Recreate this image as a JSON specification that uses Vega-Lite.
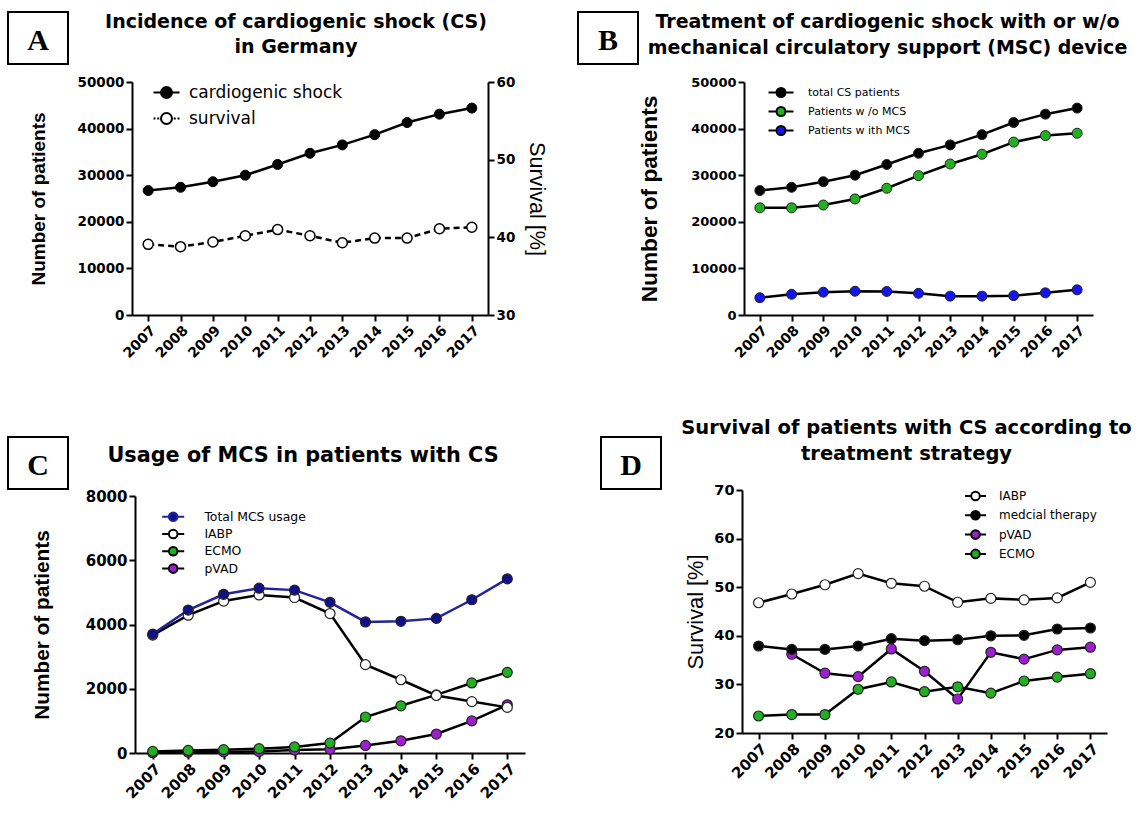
{
  "$schema": "https://vega.github.io/schema/vega-lite/v6.json",
  "background": "white",
  "padding": {"left": 7, "top": 11, "right": 0, "bottom": 0},
  "config": {
    "view": {"stroke": null},
    "font": "DejaVu Sans",
    "axis": {"domainColor": "black", "domainWidth": 2, "tickColor": "black", "tickWidth": 2, "tickSize": 6, "labelPadding": 2, "labelColor": "black", "labelFont": "DejaVu Sans", "labelFontWeight": "bold", "titleColor": "black", "titleFont": "Liberation Sans", "titleFontWeight": "bold", "grid": false},
    "axisX": {"labelAngle": -45},
    "legend": {"labelFont": "DejaVu Sans", "labelColor": "black", "padding": 0, "symbolStrokeWidth": 2}
  },
  "datasets": {
    "a": [
      {"year": "2007", "patients": 26700, "survival": 39.1},
      {"year": "2008", "patients": 27400, "survival": 38.8},
      {"year": "2009", "patients": 28600, "survival": 39.4},
      {"year": "2010", "patients": 30000, "survival": 40.2},
      {"year": "2011", "patients": 32300, "survival": 41.0},
      {"year": "2012", "patients": 34700, "survival": 40.2},
      {"year": "2013", "patients": 36500, "survival": 39.3},
      {"year": "2014", "patients": 38700, "survival": 39.9},
      {"year": "2015", "patients": 41300, "survival": 39.9},
      {"year": "2016", "patients": 43100, "survival": 41.1},
      {"year": "2017", "patients": 44400, "survival": 41.3}
    ],
    "b": [
      {"year": "2007", "series": "Patients w /o MCS", "value": 23000},
      {"year": "2008", "series": "Patients w /o MCS", "value": 23000},
      {"year": "2009", "series": "Patients w /o MCS", "value": 23600},
      {"year": "2010", "series": "Patients w /o MCS", "value": 24900},
      {"year": "2011", "series": "Patients w /o MCS", "value": 27200},
      {"year": "2012", "series": "Patients w /o MCS", "value": 29900},
      {"year": "2013", "series": "Patients w /o MCS", "value": 32400},
      {"year": "2014", "series": "Patients w /o MCS", "value": 34500},
      {"year": "2015", "series": "Patients w /o MCS", "value": 37100},
      {"year": "2016", "series": "Patients w /o MCS", "value": 38500},
      {"year": "2017", "series": "Patients w /o MCS", "value": 39000},
      {"year": "2007", "series": "Patients w ith MCS", "value": 3700},
      {"year": "2008", "series": "Patients w ith MCS", "value": 4450},
      {"year": "2009", "series": "Patients w ith MCS", "value": 4900},
      {"year": "2010", "series": "Patients w ith MCS", "value": 5100},
      {"year": "2011", "series": "Patients w ith MCS", "value": 5050},
      {"year": "2012", "series": "Patients w ith MCS", "value": 4650},
      {"year": "2013", "series": "Patients w ith MCS", "value": 4050},
      {"year": "2014", "series": "Patients w ith MCS", "value": 4050},
      {"year": "2015", "series": "Patients w ith MCS", "value": 4150},
      {"year": "2016", "series": "Patients w ith MCS", "value": 4750},
      {"year": "2017", "series": "Patients w ith MCS", "value": 5400},
      {"year": "2007", "series": "total CS patients", "value": 26700},
      {"year": "2008", "series": "total CS patients", "value": 27400},
      {"year": "2009", "series": "total CS patients", "value": 28600},
      {"year": "2010", "series": "total CS patients", "value": 30000},
      {"year": "2011", "series": "total CS patients", "value": 32300},
      {"year": "2012", "series": "total CS patients", "value": 34700},
      {"year": "2013", "series": "total CS patients", "value": 36500},
      {"year": "2014", "series": "total CS patients", "value": 38700},
      {"year": "2015", "series": "total CS patients", "value": 41300},
      {"year": "2016", "series": "total CS patients", "value": 43100},
      {"year": "2017", "series": "total CS patients", "value": 44400}
    ],
    "c": [
      {"year": "2007", "series": "pVAD", "value": 10},
      {"year": "2008", "series": "pVAD", "value": 25},
      {"year": "2009", "series": "pVAD", "value": 35},
      {"year": "2010", "series": "pVAD", "value": 45},
      {"year": "2011", "series": "pVAD", "value": 90},
      {"year": "2012", "series": "pVAD", "value": 120},
      {"year": "2013", "series": "pVAD", "value": 235},
      {"year": "2014", "series": "pVAD", "value": 380},
      {"year": "2015", "series": "pVAD", "value": 590},
      {"year": "2016", "series": "pVAD", "value": 1000},
      {"year": "2017", "series": "pVAD", "value": 1500},
      {"year": "2007", "series": "ECMO", "value": 50},
      {"year": "2008", "series": "ECMO", "value": 80},
      {"year": "2009", "series": "ECMO", "value": 105},
      {"year": "2010", "series": "ECMO", "value": 135},
      {"year": "2011", "series": "ECMO", "value": 190},
      {"year": "2012", "series": "ECMO", "value": 310},
      {"year": "2013", "series": "ECMO", "value": 1120},
      {"year": "2014", "series": "ECMO", "value": 1470},
      {"year": "2015", "series": "ECMO", "value": 1810},
      {"year": "2016", "series": "ECMO", "value": 2180},
      {"year": "2017", "series": "ECMO", "value": 2510},
      {"year": "2007", "series": "IABP", "value": 3670},
      {"year": "2008", "series": "IABP", "value": 4290},
      {"year": "2009", "series": "IABP", "value": 4730},
      {"year": "2010", "series": "IABP", "value": 4920},
      {"year": "2011", "series": "IABP", "value": 4840},
      {"year": "2012", "series": "IABP", "value": 4340},
      {"year": "2013", "series": "IABP", "value": 2750},
      {"year": "2014", "series": "IABP", "value": 2280},
      {"year": "2015", "series": "IABP", "value": 1790},
      {"year": "2016", "series": "IABP", "value": 1600},
      {"year": "2017", "series": "IABP", "value": 1420},
      {"year": "2007", "series": "Total MCS usage", "value": 3700},
      {"year": "2008", "series": "Total MCS usage", "value": 4450},
      {"year": "2009", "series": "Total MCS usage", "value": 4940},
      {"year": "2010", "series": "Total MCS usage", "value": 5130},
      {"year": "2011", "series": "Total MCS usage", "value": 5070},
      {"year": "2012", "series": "Total MCS usage", "value": 4690},
      {"year": "2013", "series": "Total MCS usage", "value": 4080},
      {"year": "2014", "series": "Total MCS usage", "value": 4100},
      {"year": "2015", "series": "Total MCS usage", "value": 4190},
      {"year": "2016", "series": "Total MCS usage", "value": 4770},
      {"year": "2017", "series": "Total MCS usage", "value": 5420}
    ],
    "d": [
      {"year": "2007", "series": "ECMO", "value": 23.5},
      {"year": "2008", "series": "ECMO", "value": 23.8},
      {"year": "2009", "series": "ECMO", "value": 23.8},
      {"year": "2010", "series": "ECMO", "value": 29.0},
      {"year": "2011", "series": "ECMO", "value": 30.5},
      {"year": "2012", "series": "ECMO", "value": 28.5},
      {"year": "2013", "series": "ECMO", "value": 29.5},
      {"year": "2014", "series": "ECMO", "value": 28.2},
      {"year": "2015", "series": "ECMO", "value": 30.7},
      {"year": "2016", "series": "ECMO", "value": 31.5},
      {"year": "2017", "series": "ECMO", "value": 32.2},
      {"year": "2008", "series": "pVAD", "value": 36.2},
      {"year": "2009", "series": "pVAD", "value": 32.3},
      {"year": "2010", "series": "pVAD", "value": 31.6},
      {"year": "2011", "series": "pVAD", "value": 37.3},
      {"year": "2012", "series": "pVAD", "value": 32.7},
      {"year": "2013", "series": "pVAD", "value": 27.0},
      {"year": "2014", "series": "pVAD", "value": 36.6},
      {"year": "2015", "series": "pVAD", "value": 35.2},
      {"year": "2016", "series": "pVAD", "value": 37.1},
      {"year": "2017", "series": "pVAD", "value": 37.65},
      {"year": "2007", "series": "medcial therapy", "value": 37.9},
      {"year": "2008", "series": "medcial therapy", "value": 37.2},
      {"year": "2009", "series": "medcial therapy", "value": 37.2},
      {"year": "2010", "series": "medcial therapy", "value": 37.9},
      {"year": "2011", "series": "medcial therapy", "value": 39.4},
      {"year": "2012", "series": "medcial therapy", "value": 39.0},
      {"year": "2013", "series": "medcial therapy", "value": 39.2},
      {"year": "2014", "series": "medcial therapy", "value": 40.0},
      {"year": "2015", "series": "medcial therapy", "value": 40.1},
      {"year": "2016", "series": "medcial therapy", "value": 41.4},
      {"year": "2017", "series": "medcial therapy", "value": 41.6},
      {"year": "2007", "series": "IABP", "value": 46.8},
      {"year": "2008", "series": "IABP", "value": 48.6},
      {"year": "2009", "series": "IABP", "value": 50.5},
      {"year": "2010", "series": "IABP", "value": 52.8},
      {"year": "2011", "series": "IABP", "value": 50.8},
      {"year": "2012", "series": "IABP", "value": 50.2},
      {"year": "2013", "series": "IABP", "value": 46.9},
      {"year": "2014", "series": "IABP", "value": 47.7},
      {"year": "2015", "series": "IABP", "value": 47.4},
      {"year": "2016", "series": "IABP", "value": 47.8},
      {"year": "2017", "series": "IABP", "value": 51.0}
    ]
  },
  "spacing": 56,
  "align": "none",
  "resolve": {"scale": {"fill": "independent", "stroke": "independent", "shape": "independent", "color": "independent"}},
  "vconcat": [
    {
      "spacing": 30,
      "align": "none",
      "resolve": {"scale": {"fill": "independent", "stroke": "independent", "shape": "independent", "color": "independent"}},
      "hconcat": [
        {
          "spacing": -40,
          "align": "none",
          "resolve": {"scale": {"fill": "independent", "stroke": "independent", "shape": "independent", "color": "independent"}},
          "hconcat": [
            {
              "width": 60, "height": 52,
              "view": {"stroke": "black", "strokeWidth": 2},
              "data": {"values": [{"letter": "A"}]},
              "mark": {"type": "text", "font": "Liberation Serif", "fontWeight": "bold", "fontSize": 30, "color": "black", "align": "center", "baseline": "middle", "dy": 3},
              "encoding": {"text": {"field": "letter", "type": "nominal"}}
            },
            {
              "spacing": 18,
              "align": "none",
              "resolve": {"scale": {"fill": "independent", "stroke": "independent", "shape": "independent", "color": "independent"}},
              "vconcat": [
                {
                  "width": 356, "height": 20,
                  "data": {"values": [{"title": "Incidence of cardiogenic shock (CS)\nin Germany"}]},
                  "mark": {"type": "text", "font": "DejaVu Sans", "fontWeight": "bold", "fontSize": 19, "lineHeight": 25, "lineBreak": "\n", "color": "black", "align": "center", "baseline": "middle", "dx": -14},
                  "encoding": {"text": {"field": "title", "type": "nominal"}}
                },
                {
                  "width": 356, "height": 233,
                  "data": {"name": "a"},
                  "encoding": {
                    "x": {"field": "year", "type": "ordinal", "axis": {"title": null, "labelFontSize": 14}}
                  },
                  "layer": [
                    {
                      "transform": [{"filter": "false"}],
                      "mark": {"type": "point", "filled": true, "opacity": 1, "stroke": "black", "strokeWidth": 2},
                      "encoding": {
                        "shape": {"field": "series", "type": "nominal", "scale": {"domain": ["cardiogenic shock", "survival"], "range": ["M-2.6,0L-1.1,0M1.1,0L2.6,0M1.1,0A1.1,1.1,0,1,1,-1.1,0A1.1,1.1,0,1,1,1.1,0Z", "M-2.6,0L-2.2,0M-1.85,0L-1.45,0M1.45,0L1.85,0M2.2,0L2.6,0M1.1,0A1.1,1.1,0,1,1,-1.1,0A1.1,1.1,0,1,1,1.1,0Z"]}, "legend": {"title": null, "orient": "none", "legendX": 26, "legendY": 2, "symbolSize": 100, "symbolStrokeWidth": 2, "labelFontSize": 17, "labelOffset": 14, "rowPadding": 7}},
                        "fill": {"field": "series", "type": "nominal", "scale": {"domain": ["cardiogenic shock", "survival"], "range": ["black", "white"]}, "legend": {"title": null, "orient": "none", "legendX": 26, "legendY": 2, "symbolSize": 100, "symbolStrokeWidth": 2, "labelFontSize": 17, "labelOffset": 14, "rowPadding": 7}}
                      }
                    },
                    {
                      "encoding": {
                        "y": {"field": "patients", "type": "quantitative", "scale": {"domain": [0, 50000], "nice": false}, "axis": {"values": [0, 10000, 20000, 30000, 40000, 50000], "format": "d", "labelFontSize": 13.5, "title": "Number of patients", "titleFontSize": 19, "titlePadding": 29}}
                      },
                      "layer": [
                        {"mark": {"type": "line", "color": "black", "strokeWidth": 2.5}},
                        {"mark": {"type": "point", "filled": true, "fill": "black", "stroke": "black", "strokeWidth": 1, "size": 100, "opacity": 1}}
                      ]
                    },
                    {
                      "encoding": {
                        "y": {"field": "survival", "type": "quantitative", "scale": {"domain": [30, 60], "nice": false, "zero": false}, "axis": {"orient": "right", "values": [30, 40, 50, 60], "labelFontSize": 13.5, "title": "Survival [%]", "titleFontSize": 21.6, "titleFontWeight": "normal", "titlePadding": 10}}
                      },
                      "layer": [
                        {"mark": {"type": "line", "color": "black", "strokeWidth": 2.5, "strokeDash": [6, 4]}},
                        {"mark": {"type": "point", "filled": true, "fill": "white", "stroke": "black", "strokeWidth": 1.5, "size": 100, "opacity": 1}}
                      ]
                    }
                  ],
                  "resolve": {"scale": {"y": "independent"}}
                }
              ]
            }
          ]
        },
        {
          "spacing": -1,
          "align": "none",
          "resolve": {"scale": {"fill": "independent", "stroke": "independent", "shape": "independent", "color": "independent"}},
          "hconcat": [
            {
              "width": 60, "height": 52,
              "view": {"stroke": "black", "strokeWidth": 2},
              "data": {"values": [{"letter": "B"}]},
              "mark": {"type": "text", "font": "Liberation Serif", "fontWeight": "bold", "fontSize": 30, "color": "black", "align": "center", "baseline": "middle", "dy": 3},
              "encoding": {"text": {"field": "letter", "type": "nominal"}}
            },
            {
              "spacing": 18,
              "align": "none",
              "resolve": {"scale": {"fill": "independent", "stroke": "independent", "shape": "independent", "color": "independent"}},
              "vconcat": [
                {
                  "width": 349, "height": 20,
                  "data": {"values": [{"title": "Treatment of cardiogenic shock with or w/o\nmechanical circulatory support (MSC) device"}]},
                  "mark": {"type": "text", "font": "DejaVu Sans", "fontWeight": "bold", "fontSize": 19, "lineHeight": 26, "lineBreak": "\n", "color": "black", "align": "center", "baseline": "middle", "dx": -31},
                  "encoding": {"text": {"field": "title", "type": "nominal"}}
                },
                {
                  "width": 349, "height": 233,
                  "data": {"name": "b"},
                  "encoding": {
                    "x": {"field": "year", "type": "ordinal", "axis": {"title": null, "labelFontSize": 14}},
                    "y": {"field": "value", "type": "quantitative", "scale": {"domain": [0, 50000], "nice": false}, "axis": {"values": [0, 10000, 20000, 30000, 40000, 50000], "format": "d", "labelFontSize": 13, "title": "Number of patients", "titleFontSize": 22.7, "titlePadding": 29}}
                  },
                  "layer": [
                    {
                      "transform": [{"filter": "false"}],
                      "mark": {"type": "point", "filled": true, "opacity": 1, "stroke": "black", "strokeWidth": 2},
                      "encoding": {
                        "shape": {"field": "series", "type": "nominal", "scale": {"domain": ["total CS patients", "Patients w /o MCS", "Patients w ith MCS"], "range": ["M-2.5,0L-0.9,0M0.9,0L2.5,0M0.9,0A0.9,0.9,0,1,1,-0.9,0A0.9,0.9,0,1,1,0.9,0Z", "M-2.5,0L-0.9,0M0.9,0L2.5,0M0.9,0A0.9,0.9,0,1,1,-0.9,0A0.9,0.9,0,1,1,0.9,0Z", "M-2.5,0L-0.9,0M0.9,0L2.5,0M0.9,0A0.9,0.9,0,1,1,-0.9,0A0.9,0.9,0,1,1,0.9,0Z"]}, "legend": {"title": null, "orient": "none", "legendX": 31, "legendY": 4.5, "symbolSize": 100, "symbolStrokeWidth": 2, "labelFontSize": 11, "labelOffset": 21, "rowPadding": 1}},
                        "fill": {"field": "series", "type": "nominal", "scale": {"domain": ["total CS patients", "Patients w /o MCS", "Patients w ith MCS"], "range": ["black", "#22b022", "#1414f0"]}, "legend": {"title": null, "orient": "none", "legendX": 31, "legendY": 4.5, "symbolSize": 100, "symbolStrokeWidth": 2, "labelFontSize": 11, "labelOffset": 21, "rowPadding": 1}}
                      }
                    },
                    {"mark": {"type": "line", "color": "black", "strokeWidth": 2.5}, "encoding": {"detail": {"field": "series", "type": "nominal"}}},
                    {"mark": {"type": "point", "filled": true, "stroke": "#222222", "strokeWidth": 1, "size": 100, "opacity": 1}, "encoding": {"color": {"field": "series", "type": "nominal", "scale": {"domain": ["total CS patients", "Patients w /o MCS", "Patients w ith MCS"], "range": ["black", "#22b022", "#1414f0"]}, "legend": null}}}
                  ]
                }
              ]
            }
          ]
        }
      ]
    },
    {
      "spacing": 75,
      "align": "none",
      "resolve": {"scale": {"fill": "independent", "stroke": "independent", "shape": "independent", "color": "independent"}},
      "hconcat": [
        {
          "spacing": -38,
          "align": "none",
          "resolve": {"scale": {"fill": "independent", "stroke": "independent", "shape": "independent", "color": "independent"}},
          "hconcat": [
            {
              "width": 60, "height": 52,
              "view": {"stroke": "black", "strokeWidth": 2},
              "data": {"values": [{"letter": "C"}]},
              "mark": {"type": "text", "font": "Liberation Serif", "fontWeight": "bold", "fontSize": 30, "color": "black", "align": "center", "baseline": "middle", "dy": 3},
              "encoding": {"text": {"field": "letter", "type": "nominal"}}
            },
            {
              "spacing": 14,
              "align": "none",
              "resolve": {"scale": {"fill": "independent", "stroke": "independent", "shape": "independent", "color": "independent"}},
              "vconcat": [
                {
                  "width": 390, "height": 38,
                  "data": {"values": [{"title": "Usage of MCS in patients with CS"}]},
                  "mark": {"type": "text", "font": "DejaVu Sans", "fontWeight": "bold", "fontSize": 20.8, "color": "black", "align": "center", "baseline": "middle", "dx": -27},
                  "encoding": {"text": {"field": "title", "type": "nominal"}}
                },
                {
                  "width": 390, "height": 257,
                  "data": {"name": "c"},
                  "encoding": {
                    "x": {"field": "year", "type": "ordinal", "axis": {"title": null, "labelFontSize": 15}},
                    "y": {"field": "value", "type": "quantitative", "scale": {"domain": [0, 8000], "nice": false}, "axis": {"values": [0, 2000, 4000, 6000, 8000], "format": "d", "labelFontSize": 15, "title": "Number of patients", "titleFontSize": 20.8, "titlePadding": 33}}
                  },
                  "layer": [
                    {
                      "transform": [{"filter": "false"}],
                      "mark": {"type": "point", "filled": true, "opacity": 1, "strokeWidth": 2},
                      "encoding": {
                        "shape": {"field": "series", "type": "nominal", "scale": {"domain": ["Total MCS usage", "IABP", "ECMO", "pVAD"], "range": ["M-2.2,0L-0.86,0M0.86,0L2.2,0M0.86,0A0.86,0.86,0,1,1,-0.86,0A0.86,0.86,0,1,1,0.86,0Z", "M-2.2,0L-0.86,0M0.86,0L2.2,0M0.86,0A0.86,0.86,0,1,1,-0.86,0A0.86,0.86,0,1,1,0.86,0Z", "M-2.2,0L-0.86,0M0.86,0L2.2,0M0.86,0A0.86,0.86,0,1,1,-0.86,0A0.86,0.86,0,1,1,0.86,0Z", "M-2.2,0L-0.86,0M0.86,0L2.2,0M0.86,0A0.86,0.86,0,1,1,-0.86,0A0.86,0.86,0,1,1,0.86,0Z"]}, "legend": {"title": null, "orient": "none", "legendX": 32, "legendY": 14.5, "symbolSize": 100, "symbolStrokeWidth": 2, "labelFontSize": 12.4, "labelOffset": 25, "rowPadding": -0.7}},
                        "fill": {"field": "series", "type": "nominal", "scale": {"domain": ["Total MCS usage", "IABP", "ECMO", "pVAD"], "range": ["#10108c", "white", "#22b022", "#a01ed2"]}, "legend": {"title": null, "orient": "none", "legendX": 32, "legendY": 14.5, "symbolSize": 100, "symbolStrokeWidth": 2, "labelFontSize": 12.4, "labelOffset": 25, "rowPadding": -0.7}},
                        "stroke": {"field": "series", "type": "nominal", "scale": {"domain": ["Total MCS usage", "IABP", "ECMO", "pVAD"], "range": ["#23239b", "black", "black", "black"]}, "legend": {"title": null, "orient": "none", "legendX": 32, "legendY": 14.5, "symbolSize": 100, "symbolStrokeWidth": 2, "labelFontSize": 12.4, "labelOffset": 25, "rowPadding": -0.7}}
                      }
                    },
                    {"mark": {"type": "line", "strokeWidth": 2.5}, "encoding": {"detail": {"field": "series", "type": "nominal"}, "stroke": {"condition": {"test": "datum.series === 'Total MCS usage'", "value": "#23239b"}, "value": "black"}}},
                    {"mark": {"type": "point", "filled": true, "stroke": "#222222", "strokeWidth": 1.2, "size": 100, "opacity": 1}, "encoding": {"color": {"field": "series", "type": "nominal", "scale": {"domain": ["Total MCS usage", "IABP", "ECMO", "pVAD"], "range": ["#10108c", "white", "#22b022", "#a01ed2"]}, "legend": null}}}
                  ]
                }
              ]
            }
          ]
        },
        {
          "spacing": 19,
          "align": "none",
          "resolve": {"scale": {"fill": "independent", "stroke": "independent", "shape": "independent", "color": "independent"}},
          "hconcat": [
            {
              "width": 60, "height": 52,
              "view": {"stroke": "black", "strokeWidth": 2},
              "data": {"values": [{"letter": "D"}]},
              "mark": {"type": "text", "font": "Liberation Serif", "fontWeight": "bold", "fontSize": 30, "color": "black", "align": "center", "baseline": "middle", "dy": 3},
              "encoding": {"text": {"field": "letter", "type": "nominal"}}
            },
            {
              "spacing": 19,
              "align": "none",
              "resolve": {"scale": {"fill": "independent", "stroke": "independent", "shape": "independent", "color": "independent"}},
              "vconcat": [
                {
                  "width": 365, "height": 2,
                  "data": {"values": [{"title": "Survival of patients with CS according to\ntreatment strategy"}]},
                  "mark": {"type": "text", "font": "DejaVu Sans", "fontWeight": "bold", "fontSize": 19.5, "lineHeight": 26, "lineBreak": "\n", "color": "black", "align": "center", "baseline": "middle", "dx": -18, "dy": -10.5},
                  "encoding": {"text": {"field": "title", "type": "nominal"}}
                },
                {
                  "width": 365, "height": 243,
                  "data": {"name": "d"},
                  "encoding": {
                    "x": {"field": "year", "type": "ordinal", "axis": {"title": null, "labelFontSize": 15}},
                    "y": {"field": "value", "type": "quantitative", "scale": {"domain": [20, 70], "nice": false, "zero": false}, "axis": {"values": [20, 30, 40, 50, 60, 70], "labelFontSize": 14.5, "title": "Survival [%]", "titleFontSize": 21.8, "titleFontWeight": "normal", "titlePadding": 6}}
                  },
                  "layer": [
                    {
                      "transform": [{"filter": "false"}],
                      "mark": {"type": "point", "filled": true, "opacity": 1, "stroke": "black", "strokeWidth": 2},
                      "encoding": {
                        "shape": {"field": "series", "type": "nominal", "scale": {"domain": ["IABP", "medcial therapy", "pVAD", "ECMO"], "range": ["M-2.1,0L-0.86,0M0.86,0L2.1,0M0.86,0A0.86,0.86,0,1,1,-0.86,0A0.86,0.86,0,1,1,0.86,0Z", "M-2.1,0L-0.86,0M0.86,0L2.1,0M0.86,0A0.86,0.86,0,1,1,-0.86,0A0.86,0.86,0,1,1,0.86,0Z", "M-2.1,0L-0.86,0M0.86,0L2.1,0M0.86,0A0.86,0.86,0,1,1,-0.86,0A0.86,0.86,0,1,1,0.86,0Z", "M-2.1,0L-0.86,0M0.86,0L2.1,0M0.86,0A0.86,0.86,0,1,1,-0.86,0A0.86,0.86,0,1,1,0.86,0Z"]}, "legend": {"title": null, "orient": "none", "legendX": 227.5, "legendY": 0, "symbolSize": 100, "symbolStrokeWidth": 2, "labelFontSize": 12, "labelOffset": 17.5, "rowPadding": 1.3}},
                        "fill": {"field": "series", "type": "nominal", "scale": {"domain": ["IABP", "medcial therapy", "pVAD", "ECMO"], "range": ["white", "black", "#a01ed2", "#22b022"]}, "legend": {"title": null, "orient": "none", "legendX": 227.5, "legendY": 0, "symbolSize": 100, "symbolStrokeWidth": 2, "labelFontSize": 12, "labelOffset": 17.5, "rowPadding": 1.3}}
                      }
                    },
                    {"mark": {"type": "line", "color": "black", "strokeWidth": 2.5}, "encoding": {"detail": {"field": "series", "type": "nominal"}}},
                    {"mark": {"type": "point", "filled": true, "stroke": "#222222", "strokeWidth": 1.2, "size": 100, "opacity": 1}, "encoding": {"color": {"field": "series", "type": "nominal", "scale": {"domain": ["IABP", "medcial therapy", "pVAD", "ECMO"], "range": ["white", "black", "#a01ed2", "#22b022"]}, "legend": null}}}
                  ]
                }
              ]
            }
          ]
        }
      ]
    }
  ]
}
